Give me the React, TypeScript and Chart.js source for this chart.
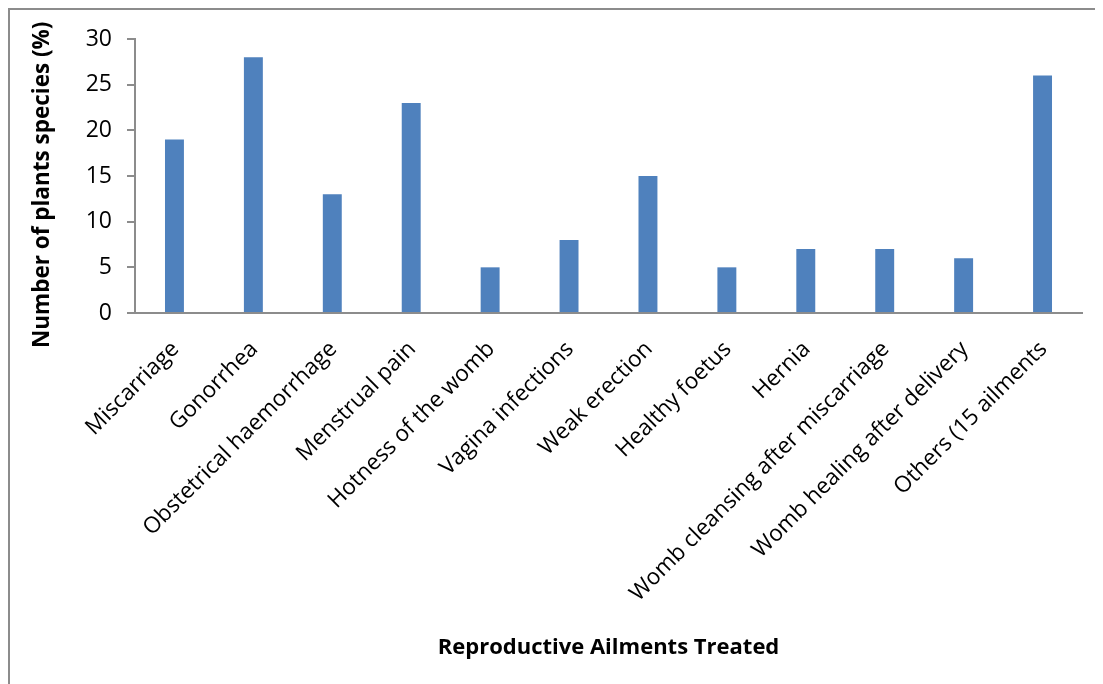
import React, { useEffect, useRef } from "react";
import { Chart, registerables } from "chart.js";

Chart.register(...registerables);

const categories = [
  "Miscarriage",
  "Gonorrhea",
  "Obstetrical haemorrhage",
  "Menstrual pain",
  "Hotness of the womb",
  "Vagina infections",
  "Weak erection",
  "Healthy foetus",
  "Hernia",
  "Womb cleansing after miscarriage",
  "Womb healing after delivery",
  "Others (15 ailments",
];
const values = [19, 28, 13, 23, 5, 8, 15, 5, 7, 7, 6, 26];
const yTicks = [0, 5, 10, 15, 20, 25, 30];

const FONT = "'Open Sans', 'DejaVu Sans', sans-serif";

export default function App() {
  const ref = useRef<HTMLCanvasElement | null>(null);
  useEffect(() => {
    if (!ref.current) return;
    const chart = new Chart(ref.current, {
      type: "bar",
      data: {
        labels: categories,
        datasets: [
          {
            data: values,
            backgroundColor: "#4F81BD",
            borderColor: "#C9D7EA",
            borderWidth: 0,
            categoryPercentage: 1,
            barPercentage: 0.24,
          },
        ],
      },
      options: {
        responsive: false,
        animation: false,
        layout: { padding: { top: 29, right: 21, left: 0, bottom: 0 } },
        plugins: { legend: { display: false }, tooltip: { enabled: false } },
        scales: {
          x: {
            grid: { display: false, drawTicks: false },
            border: { color: "#8C8C8C", width: 2 },
            ticks: {
              color: "#000",
              font: { family: FONT, size: 22.5 },
              maxRotation: 45,
              minRotation: 45,
              padding: 23,
              labelOffset: 1,
              autoSkip: false,
            },
            title: {
              display: true,
              text: "Reproductive Ailments Treated",
              color: "#000",
              font: { family: FONT, size: 22, weight: "bold" },
              padding: { top: 0, bottom: 23 },
            },
            afterFit: (s: any) => {
              s.height = 371;
            },
          },
          y: {
            min: 0,
            max: 30,
            afterBuildTicks: (s: any) => {
              s.ticks = yTicks.map((v) => ({ value: v }));
            },
            grid: {
              drawOnChartArea: false,
              drawTicks: true,
              tickLength: 8,
              color: "#8C8C8C",
              lineWidth: 2,
            },
            border: { color: "#8C8C8C", width: 2 },
            ticks: {
              color: "#000",
              font: { family: FONT, size: 23 },
              padding: 15,
            },
            title: {
              display: true,
              text: "Number of plants species (%)   ",
              color: "#000",
              font: { family: FONT, size: 22.5, weight: "bold" },
              padding: { top: 19, bottom: 0 },
            },
            afterFit: (s: any) => {
              s.width = 125;
            },
          },
        },
      },
    });
    return () => chart.destroy();
  }, []);

  return (
    <div
      style={{
        width: 1095,
        height: 676,
        borderLeft: "2px solid #8C8C8C",
        borderTop: "2px solid #8C8C8C",
        boxSizing: "border-box",
        background: "#fff",
      }}
    >
      <canvas ref={ref} width={1093} height={674} style={{ display: "block" }} />
    </div>
  );
}
